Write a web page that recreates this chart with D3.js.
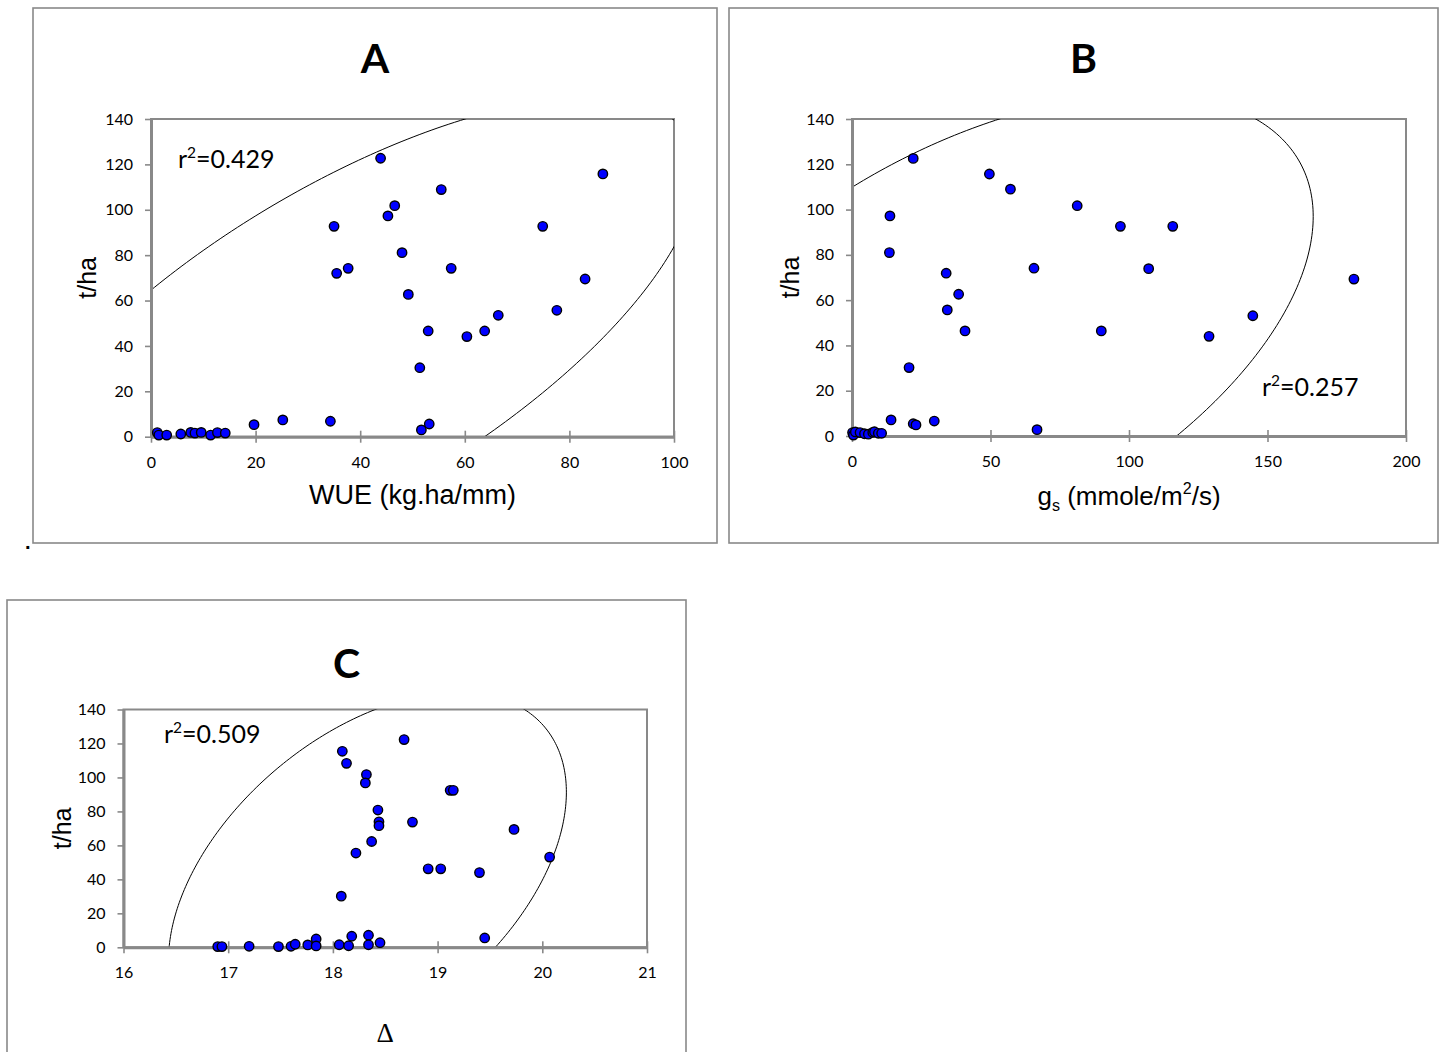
<!DOCTYPE html>
<html>
<head>
<meta charset="utf-8">
<title>Yield vs WUE, gs and delta</title>
<script src="https://d3js.org/d3.v7.min.js"></script>
<style>
  body { margin:0; background:#fff; }
  svg { display:block; }
</style>
</head>
<body>
<svg id="chart" width="1439" height="1052"></svg>
<script>
// ---- panel A: yield (t/ha) against WUE (kg.ha/mm)
const wueA   = [1.2, 1.5, 3.0, 5.7, 7.6, 8.4, 9.6, 11.4, 12.7, 14.2,
                19.7, 25.2, 34.3, 51.7, 53.2, 51.4, 53.0, 60.4, 63.8, 66.4, 77.6, 83.0,
                49.2, 35.5, 37.7, 57.4, 48.0, 35.0, 74.9, 45.3, 46.6, 55.5, 86.4, 43.9];
const yieldA = [1.8, 0.7, 0.7, 1.2, 1.9, 1.6, 1.9, 0.7, 1.8, 1.6,
                5.3, 7.4, 6.8, 3.0, 5.6, 30.4, 46.6, 44.1, 46.6, 53.5, 55.7, 69.5,
                62.7, 72.0, 74.2, 74.2, 81.1, 92.7, 92.7, 97.3, 101.8, 108.9, 115.8, 122.7];

// ---- panel B: yield against stomatal conductance gs
const gsB    = [0.2, 0.5, 1.2, 2.9, 4.5, 5.9, 7.5, 8.1, 9.5, 10.7,
                22.1, 49.6, 57.2, 81.3, 96.9, 115.8, 13.7, 13.5, 34.0, 65.7, 107.1, 181.2,
                38.5, 34.4, 144.7, 40.8, 90.0, 128.9, 20.6, 14.1, 22.1, 23.1, 29.7, 66.8];
const yieldB = [1.5, 0.4, 1.8, 1.5, 1.0, 0.8, 1.6, 1.9, 1.2, 1.2,
                122.6, 115.7, 109.0, 101.7, 92.6, 92.6, 97.2, 81.0, 71.9, 74.1, 73.9, 69.3,
                62.6, 55.7, 53.1, 46.4, 46.4, 44.0, 30.2, 7.1, 5.4, 4.9, 6.6, 2.8];

// ---- panel C: yield against carbon isotope discrimination
const deltaC = [18.09, 18.13, 18.32, 18.31, 18.43, 18.44, 18.44, 18.37, 18.22, 18.08,
                16.90, 16.94, 17.20, 17.48, 17.60, 17.64, 17.76, 17.84, 17.84, 18.06, 18.15,
                18.18, 18.34, 18.34, 18.45,
                18.68, 19.12, 19.15, 18.76, 19.73, 20.07, 18.91, 19.03, 19.40, 19.45];
const yieldC = [115.4, 108.3, 101.7, 96.8, 80.8, 73.9, 71.6, 62.3, 55.5, 30.1,
                0.4, 0.4, 0.6, 0.4, 0.6, 1.8, 1.4, 4.9, 0.8, 1.5, 0.9,
                6.5, 7.1, 1.5, 2.7,
                122.3, 92.4, 92.4, 73.7, 69.4, 53.1, 46.2, 46.2, 44.0, 5.5];

// ellipses: centre x, centre y, half x-extent, half y-extent, correlation
const ellipseA = [37.3, 41.7, 67.2, 107.8, 0.695];
const ellipseB = [45.5, 43.5, 121.0, 107.5, 0.497];
const ellipseC = [18.33, 41.9, 1.90, 108.2, 0.457];

const yTicks = [0, 20, 40, 60, 80, 100, 120, 140];
const ticksA = [0, 20, 40, 60, 80, 100];
const ticksB = [0, 50, 100, 150, 200];
const ticksC = [16, 17, 18, 19, 20, 21];

const r2A = "0.429", r2B = "0.257", r2C = "0.509";

const svg = d3.select("#chart");
const gray = "#898989";
const tickFont = "16px Lato, sans-serif";

const panels = [
  {id: "A", frame: [33, 8, 684, 535], plot: [151, 119, 523, 317.7], xDomain: [0, 100], xTicks: ticksA,
   xs: wueA, ys: yieldA, ell: ellipseA, r2: r2A, r2Pos: [178, 168], titleY: 73,
   xLabel: [{t: "WUE (kg.ha/mm)"}], xLabelY: 504, xLabelFont: "27px 'Liberation Sans', Arial, sans-serif",
   xLabelSize: 27, yLabelX: 96},
  {id: "B", frame: [729, 8, 709, 535], plot: [852, 119, 554, 317], xDomain: [0, 200], xTicks: ticksB,
   xs: gsB, ys: yieldB, ell: ellipseB, r2: r2B, r2Pos: [1262, 396], titleY: 73,
   xLabel: [{t: "g"}, {t: "s", sub: true}, {t: " (mmole/m"}, {t: "2", sup: true}, {t: "/s)"}],
   xLabelY: 505, xLabelFont: "26px 'Liberation Sans', Arial, sans-serif", xLabelSize: 26, yLabelX: 799},
  {id: "C", frame: [7, 600, 679, 520], plot: [123.5, 709.5, 523.5, 237.8], xDomain: [16, 21], xTicks: ticksC,
   xs: deltaC, ys: yieldC, ell: ellipseC, r2: r2C, r2Pos: [164, 743], titleY: 678,
   xLabel: [{t: "\u0394"}], xLabelY: 1042, xLabelFont: "27px 'Liberation Serif', 'Times New Roman', serif",
   xLabelSize: 27, yLabelX: 71}
];

function richText(sel, pieces, size) {
  let shift = 0;
  pieces.forEach(p => {
    const ts = sel.append("tspan").text(p.t);
    let target = 0;
    if (p.sup) { target = -0.42 * size; ts.style("font-size", (size * 0.62) + "px"); }
    if (p.sub) { target = 0.22 * size; ts.style("font-size", (size * 0.62) + "px"); }
    if (target !== shift) { ts.attr("dy", target - shift); shift = target; }
  });
}

panels.forEach(p => {
  const [fx, fy, fw, fh] = p.frame;
  const [px, py, pw, ph] = p.plot;
  const g = svg.append("g");

  g.append("rect")
    .attr("x", fx).attr("y", fy).attr("width", fw).attr("height", fh)
    .attr("fill", "none").attr("stroke", gray).attr("stroke-width", 1.6);

  const x = d3.scaleLinear().domain(p.xDomain).range([px, px + pw]);
  const y = d3.scaleLinear().domain([0, 140]).range([py + ph, py]);

  // plot area box
  g.append("rect")
    .attr("x", px).attr("y", py).attr("width", pw).attr("height", ph)
    .attr("fill", "none").attr("stroke", gray).attr("stroke-width", 2);

  // ellipse, clipped to plot area
  g.append("clipPath").attr("id", "clip" + p.id)
    .append("rect").attr("x", px).attr("y", py).attr("width", pw).attr("height", ph);

  const [cx, cy, rx, ry, rho] = p.ell;
  const delta = Math.acos(rho);
  const angles = d3.range(0, 361).map(a => a * Math.PI / 180);
  const line = d3.line()
    .x(t => x(cx + rx * Math.cos(t)))
    .y(t => y(cy + ry * Math.cos(t + delta)));
  g.append("path")
    .attr("clip-path", `url(#clip${p.id})`)
    .attr("d", line(angles))
    .attr("fill", "none").attr("stroke", "#000").attr("stroke-width", 1);

  // y axis
  const ya = g.append("g")
    .attr("transform", `translate(${px},0)`)
    .call(d3.axisLeft(y).tickValues(yTicks).tickSize(6).tickSizeOuter(0).tickPadding(12));
  ya.select(".domain").attr("stroke", gray).attr("stroke-width", 3);
  ya.selectAll(".tick line").attr("stroke", gray).attr("stroke-width", 1.6);
  ya.selectAll(".tick text").style("font", tickFont).attr("fill", "#000");

  // x axis, ticks crossing the axis
  const xa = g.append("g")
    .attr("transform", `translate(0,${py + ph})`)
    .call(d3.axisBottom(x).tickValues(p.xTicks).tickFormat(d3.format("d")).tickSize(6).tickSizeOuter(0));
  xa.select(".domain").attr("stroke", gray).attr("stroke-width", 3);
  xa.selectAll(".tick line").attr("y1", -6).attr("y2", 6).attr("stroke", gray).attr("stroke-width", 1.6);
  xa.selectAll(".tick text").style("font", tickFont).attr("fill", "#000")
    .attr("y", 31).attr("dy", null);

  // points
  g.append("g").selectAll("circle")
    .data(p.xs.map((v, i) => [v, p.ys[i]]))
    .join("circle")
    .attr("cx", d => x(d[0])).attr("cy", d => y(d[1]))
    .attr("r", 4.7)
    .attr("fill", "#0000ff").attr("stroke", "#000").attr("stroke-width", 1.4);

  // r squared note
  const r2 = g.append("text")
    .attr("x", p.r2Pos[0]).attr("y", p.r2Pos[1])
    .style("font", "25px Lato, sans-serif").attr("fill", "#000");
  richText(r2, [{t: "r"}, {t: "2", sup: true}, {t: "=" + p.r2}], 25);

  // panel letter
  g.append("text")
    .attr("x", fx + fw / 2).attr("y", p.titleY)
    .attr("text-anchor", "middle")
    .style("font", "bold 41px Lato, sans-serif")
    .text(p.id);

  // axis titles
  const xl = g.append("text")
    .attr("x", px + pw / 2).attr("y", p.xLabelY)
    .attr("text-anchor", "middle")
    .style("font", p.xLabelFont);
  richText(xl, p.xLabel, p.xLabelSize);

  g.append("text")
    .attr("transform", `translate(${p.yLabelX},${py + ph / 2}) rotate(-90)`)
    .attr("text-anchor", "middle")
    .style("font", "25px 'Liberation Sans', Arial, sans-serif")
    .text("t/ha");
});

// stray full stop beside panel A
svg.append("text")
  .attr("x", 25).attr("y", 549)
  .style("font", "bold 20px 'Liberation Sans', Arial, sans-serif")
  .text(".");
</script>
</body>
</html>
